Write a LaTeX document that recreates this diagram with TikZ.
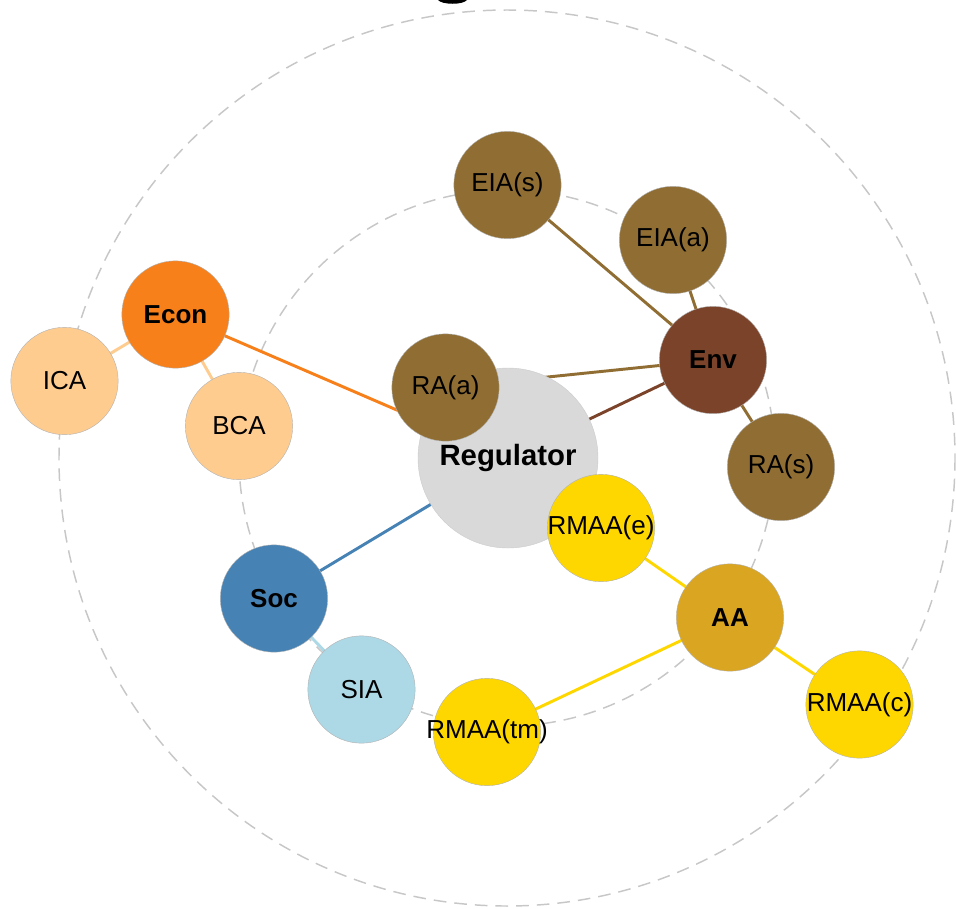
\documentclass[tikz,border=0pt]{standalone}
\usepackage{fontspec}
\setmainfont{Liberation Sans}
% labels may overhang their bubble without enlarging it
\newcommand\overhang[1]{\makebox[0pt]{#1}}
\begin{document}
\begin{tikzpicture}[x=0.75pt,y=-0.75pt,
  ring/.style={draw=black!22,line width=1.1pt,dash pattern=on 9.5pt off 6pt},
  link/.style={line width=2.2pt},
  bubble/.style={circle,inner sep=0pt,draw=white!70!black,line width=0.3pt,
    minimum size=80.5pt,font=\fontsize{19.5pt}{22pt}\selectfont},
  hub/.style={bubble,font=\fontsize{19.5pt}{22pt}\selectfont\bfseries}]
\definecolor{regc}{RGB}{217,217,217}
\definecolor{envc}{RGB}{123,67,41}
\definecolor{envs}{RGB}{143,109,51}
\definecolor{econc}{RGB}{247,128,26}
\definecolor{econs}{RGB}{255,204,144}
\definecolor{socc}{RGB}{70,130,180}
\definecolor{socs}{RGB}{173,216,230}
\definecolor{aac}{RGB}{218,165,32}
\definecolor{aas}{RGB}{255,215,0}
\useasboundingbox (0,0) rectangle (956,908);
% descender of the heading above the frame
\fill[black] (438,0) .. controls (442,5) and (463,5) .. (467,0) -- cycle;
% guide rings
\draw[ring] (507,458) circle[radius=448];
\draw[ring] (507,458) circle[radius=268];
% node positions
\coordinate (pReg) at (508,458);
\coordinate (pEnv) at (713,360);
\coordinate (pEconN) at (175.5,314.5);
\coordinate (pSocN) at (274,598.5);
\coordinate (pAAN) at (730,617.5);
% connectors (under the bubbles)
\draw[link,econs] (pEconN) -- (64.5,381) coordinate (pICA);
\draw[link,econs] (pEconN) -- (239,426) coordinate (pBCA);
\draw[link,econc] (pEconN) -- (pReg);
\draw[link,envs] (445.5,387.5) coordinate (pRAa) -- (pEnv);
\draw[link,envc] (pEnv) -- (pReg);
\draw[link,envs] (507.5,185) coordinate (pEIAs) -- (pEnv);
\draw[link,envs] (673,240) coordinate (pEIAa) -- (pEnv);
\draw[link,envs] (781,467) coordinate (pRAs) -- (pEnv);
\draw[link,socc] (pSocN) -- (pReg);
\draw[link,socs] (pSocN) -- (361.5,689.5) coordinate (pSIA);
\draw[link,aas] (pAAN) -- (601,528) coordinate (pRMe);
\draw[link,aas] (pAAN) -- (487,732) coordinate (pRMtm);
\draw[link,aas] (pAAN) -- (859.5,704.5) coordinate (pRMc);
% bubbles
\node[hub,fill=regc,draw=black!20,minimum size=135pt,
  font=\fontsize{22pt}{25pt}\selectfont\bfseries] (Reg) at (pReg) {Regulator};
\node[bubble,fill=envs] (RAa) at (pRAa) {RA(a)};
\node[bubble,fill=envs] (EIAs) at (pEIAs) {EIA(s)};
\node[bubble,fill=envs] (EIAa) at (pEIAa) {EIA(a)};
\node[hub,fill=envc] (Env) at (pEnv) {Env};
\node[bubble,fill=envs] (RAs) at (pRAs) {RA(s)};
\node[hub,fill=econc] (Econ) at (pEconN) {Econ};
\node[bubble,fill=econs] (ICA) at (pICA) {ICA};
\node[bubble,fill=econs] (BCA) at (pBCA) {BCA};
\node[hub,fill=socc] (Soc) at (pSocN) {Soc};
\node[bubble,fill=socs] (SIA) at (pSIA) {SIA};
\node[bubble,fill=aas] (RMtm) at (pRMtm) {\overhang{RMAA(tm)}};
\node[bubble,fill=aas] (RMe) at (pRMe) {\overhang{RMAA(e)}};
\node[hub,fill=aac] (AA) at (pAAN) {AA};
\node[bubble,fill=aas] (RMc) at (pRMc) {\overhang{RMAA(c)}};
\end{tikzpicture}
\end{document}
